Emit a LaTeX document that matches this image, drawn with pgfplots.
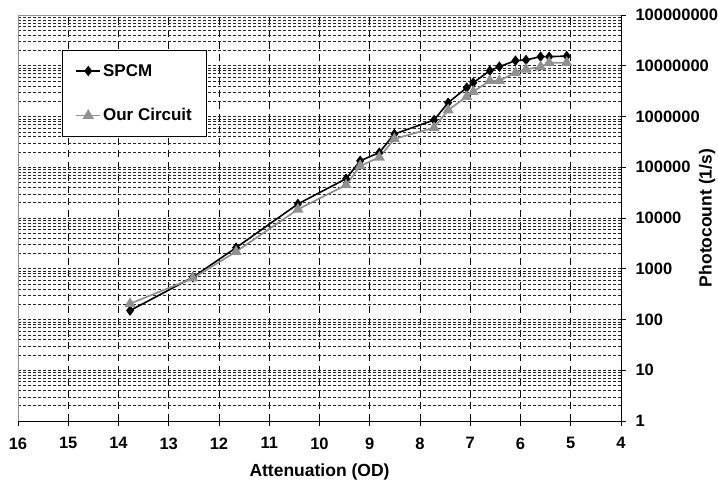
\documentclass[border=0pt]{standalone}
\usepackage{fontspec}
\setmainfont{Liberation Sans}
\usepackage{pgfplots}
\pgfplotsset{compat=1.18}
\definecolor{cg}{RGB}{145,145,145}
\pgfplotstableread{
x y
13.77 150
12.52 680
11.66 2600
10.43 18900
9.47 59500
9.19 134000
8.81 194000
8.51 452000
7.72 853000
7.44 1870000
7.07 3700000
6.94 4630000
6.61 8000000
6.42 9600000
6.10 12600000
5.89 13000000
5.60 15100000
5.43 15100000
5.08 15500000
}\spcm
\pgfplotstableread{
x y
13.77 205
12.52 650
11.66 2170
10.43 14800
9.47 44700
9.19 106000
8.81 157000
8.51 361000
7.72 601000
7.44 1340000
7.07 2450000
6.94 3080000
6.61 5070000
6.42 5070000
6.10 7300000
5.89 8500000
5.60 9500000
5.43 11500000
5.08 11500000
}\circuit
\begin{document}
\begin{tikzpicture}[x=1pt,y=1pt]
\useasboundingbox (0,0) rectangle (718,484);
\begin{axis}[
 at={(18pt,63pt)}, anchor=south west,
 scale only axis, width=603pt, height=406pt,
 xmin=4, xmax=16, x dir=reverse,
 ymode=log, ymin=1, ymax=1e8,
 xtick={4,...,16},
 ytick={1,10,100,1000,10000,100000,1000000,10000000,100000000},
 yticklabels={1,10,100,1000,10000,100000,1000000,10000000,100000000},
 axis x line*=bottom, axis y line*=right,
 axis line style={black, line width=0.9pt, -},
 tick align=outside, major tick length=5pt, minor tick length=0pt,
 tick style={black, line width=0.9pt},
 xmajorgrids, ymajorgrids, yminorgrids,
 x grid style={black, dash pattern=on 7pt off 5pt, line width=0.6pt},
 y grid style={black!85, dash pattern=on 3pt off 2pt, line width=0.5pt},
 /pgf/number format/assume math mode=true,
 tick label style={font=\fontsize{16.5}{19}\selectfont\bfseries},
 yticklabel style={anchor=west, xshift=6pt},
 xticklabel style={yshift=-8pt},
 xlabel={Attenuation (OD)},
 ylabel={Photocount (1/s)},
 label style={font=\fontsize{17.5}{20}\selectfont\bfseries},
 xlabel style={yshift=-8pt},
 ylabel style={at={(axis description cs:1,0.5)}, anchor=center, yshift=-86pt},
 legend style={at={(rel axis cs:0.073,0.914)}, anchor=north west,
   draw=black, line width=0.8pt, fill=white,
   font=\fontsize{17}{20}\selectfont\bfseries,
   inner xsep=13pt, inner ysep=12pt, row sep=27pt},
 legend cell align=left,
 legend image code/.code={\draw[mark repeat=2,mark phase=2,#1] plot coordinates {(0pt,0pt) (12pt,0pt) (24pt,0pt)};},
]
\draw[cg, line width=0.8pt] (rel axis cs:0,0) |- (rel axis cs:1,1);
\addplot[black, line width=1.6pt, mark=diamond*, mark size=4pt, mark options={solid, fill=black}] table {\spcm};
\addlegendentry{SPCM}
\addplot[cg, line width=1.7pt, mark=triangle*, mark size=4.8pt, mark options={solid, fill=cg}] table {\circuit};
\addlegendentry{Our Circuit}
\end{axis}
\end{tikzpicture}
\end{document}
